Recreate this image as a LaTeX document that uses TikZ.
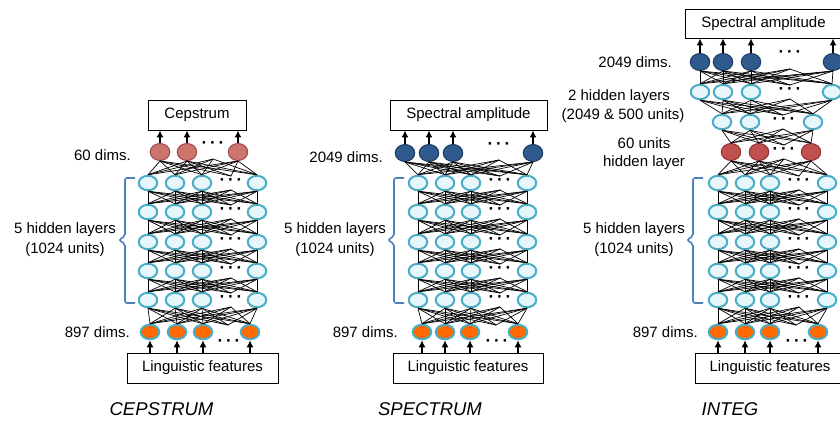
\documentclass[tikz,border=0pt]{standalone}
\usepackage{fontspec}
\setmainfont{Liberation Sans}
\usetikzlibrary{shapes.geometric,arrows.meta}
\definecolor{cyb}{HTML}{4BACC6}
\definecolor{cyf}{HTML}{E6F6FB}
\definecolor{org}{HTML}{FF6A00}
\definecolor{redA}{HTML}{CD7370}
\definecolor{redAd}{HTML}{A04845}
\definecolor{redB}{HTML}{C0504D}
\definecolor{redBd}{HTML}{8E3331}
\definecolor{blu}{HTML}{2E5A8E}
\definecolor{blud}{HTML}{1D3A5E}
\definecolor{brc}{HTML}{4F81BD}
\tikzset{
  unit/.style={ellipse, inner sep=0pt, minimum width=18.5pt, minimum height=14.5pt},
  hid/.style={unit, draw=cyb, fill=cyf, line width=2pt},
  inp/.style={unit, draw=cyb, fill=org, line width=2pt},
  outr/.style={unit, draw=redAd, fill=redA, line width=1pt, minimum width=19.5pt, minimum height=17pt},
  midr/.style={unit, draw=redBd, fill=redB, line width=1pt, minimum width=19.5pt, minimum height=17pt},
  outb/.style={unit, draw=blud, fill=blu, line width=1pt, minimum width=19.5pt, minimum height=17pt},
  edge/.style={draw=black, line width=0.7pt},
  arr/.style={draw=black, line width=1.4pt, -{Latex[length=7pt,width=7pt]}},
  box/.style={draw=black, line width=0.8pt, fill=white, inner sep=0pt, font=\fontsize{15}{18}\selectfont},
  lbl/.style={inner sep=0pt, font=\fontsize{15}{18}\selectfont},
  captxt/.style={inner sep=0pt, font=\fontsize{18.5}{20}\selectfont\itshape},
  dotsn/.style={inner sep=0pt, font=\fontsize{17}{18}\selectfont\bfseries},
  brace/.style={draw=brc, line width=1.6pt, rounded corners=2pt},
}
\newcommand\mkLayer[5]{%
  \foreach \xx [count=\ii] in {#4} {\node[#3] (#1-\ii) at (\xx,#2) {};}
  \coordinate (#1-dt) at (#5,#2-7);
  \coordinate (#1-db) at (#5,#2+7);
}
\newcommand\mkDots[3]{\node[dotsn] (#1-dots) at (#2,#3) {·\,·\,·};}
\newcommand\mkConn[4]{%
  \foreach \ii in {1,...,#2}{%
    \foreach \jj in {1,...,#4}{\draw[edge] (#1-\ii.south) -- (#3-\jj.north);}
    \draw[edge] (#1-\ii.south) -- (#3-dt);}
  \foreach \jj in {1,...,#4}{\draw[edge] (#1-db) -- (#3-\jj.north);}
}
\newcommand\mkBrace[2]{% name, vertical x
  \draw[brace] (#2+10,178) -- (#2,178) -- (#2,236) -- (#2-6,240) -- (#2,244) -- (#2,303) -- (#2+10,303);
}
\begin{document}
\begin{tikzpicture}[x=1pt,y=-1pt]
\path[use as bounding box] (0,0) rectangle (840,421);
\clip (0,0) rectangle (840,421);

% ---------------- CEPSTRUM ----------------
\node[box, minimum width=98pt, minimum height=30pt] (cbox) at (197,115) {Cepstrum};
\node[box, minimum width=151pt, minimum height=30pt] (clb) at (202.5,368) {Linguistic features};
\mkLayer{co}{152}{outr}{160,187,238}{213}
\mkLayer{ch1}{183}{hid}{148,175,202,257}{231}
\mkLayer{ch2}{212}{hid}{148,175,202,257}{231}
\mkLayer{ch3}{242}{hid}{148,175,202,257}{231}
\mkLayer{ch4}{271}{hid}{148,175,202,257}{231}
\mkLayer{ch5}{300}{hid}{148,175,202,257}{231}
\mkLayer{ci}{332}{inp}{150,177,203,250}{228}
\mkConn{co}{3}{ch1}{4}
\mkConn{ch1}{4}{ch2}{4}
\mkConn{ch2}{4}{ch3}{4}
\mkConn{ch3}{4}{ch4}{4}
\mkConn{ch4}{4}{ch5}{4}
\mkConn{ch5}{4}{ci}{4}
\mkDots{co}{213}{145}
\mkDots{ch1}{231}{182}
\mkDots{ch2}{231}{211}
\mkDots{ch3}{231}{241}
\mkDots{ch4}{231}{270}
\mkDots{ch5}{231}{299}
\mkDots{ci}{229}{343}
\foreach \k in {1,2,3}{\draw[arr] (co-\k.north) -- (cbox.south -| co-\k);}
\foreach \k in {1,2,3,4}{\draw[arr] (clb.north -| ci-\k) -- (ci-\k.south);}
\mkBrace{cb}{125}
\node[lbl, anchor=east] (c60) at (131,155) {60 dims.};
\node[lbl] (chl1) at (65,230) {5 hidden layers};
\node[lbl] (chl2) at (65,250) {(1024 units)};
\node[lbl, anchor=east] (c897) at (130,332) {897 dims.};
\node[captxt] (ccap) at (161.5,409) {CEPSTRUM};

% ---------------- SPECTRUM ----------------
\node[box, minimum width=157pt, minimum height=30pt] (sbox) at (468.5,115) {Spectral amplitude};
\node[box, minimum width=150pt, minimum height=30pt] (slb) at (468,368) {Linguistic features};
\mkLayer{so}{153}{outb}{405,429,453,533}{499}
\mkLayer{sh1}{183}{hid}{418,445,471,527}{500}
\mkLayer{sh2}{212}{hid}{418,445,471,527}{500}
\mkLayer{sh3}{242}{hid}{418,445,471,527}{500}
\mkLayer{sh4}{271}{hid}{418,445,471,527}{500}
\mkLayer{sh5}{300}{hid}{418,445,471,527}{500}
\mkLayer{si}{332}{inp}{422,445,470,518}{496}
\mkConn{so}{4}{sh1}{4}
\mkConn{sh1}{4}{sh2}{4}
\mkConn{sh2}{4}{sh3}{4}
\mkConn{sh3}{4}{sh4}{4}
\mkConn{sh4}{4}{sh5}{4}
\mkConn{sh5}{4}{si}{4}
\mkDots{so}{499}{146}
\mkDots{sh1}{500}{182}
\mkDots{sh2}{500}{211}
\mkDots{sh3}{500}{241}
\mkDots{sh4}{500}{270}
\mkDots{sh5}{500}{299}
\mkDots{si}{497}{343}
\foreach \k in {1,2,3,4}{\draw[arr] (so-\k.north) -- (sbox.south -| so-\k);}
\foreach \k in {1,2,3,4}{\draw[arr] (slb.north -| si-\k) -- (si-\k.south);}
\mkBrace{sb}{394}
\node[lbl, anchor=east] (s2049) at (383,157) {2049 dims.};
\node[lbl] (shl1) at (335,230) {5 hidden layers};
\node[lbl] (shl2) at (335,250) {(1024 units)};
\node[lbl, anchor=east] (s897) at (398,332) {897 dims.};
\node[captxt] (scap) at (430,409) {SPECTRUM};

% ---------------- INTEG ----------------
\node[box, minimum width=157pt, minimum height=29pt] (gbox) at (763.5,23.5) {Spectral amplitude};
\node[box, minimum width=150pt, minimum height=30pt] (glb) at (770,368) {Linguistic features};
\mkLayer{go}{62}{outb}{700,723,751,833}{790}
\mkLayer{gh1}{92}{hid}{700,723,751,832}{790}
\mkLayer{gh2}{122}{hid}{722,750,813}{783}
\mkLayer{gr}{152}{midr}{731,759,811}{784}
\mkLayer{gh3}{183}{hid}{718,745,770,827}{799}
\mkLayer{gh4}{212}{hid}{718,745,770,827}{799}
\mkLayer{gh5}{242}{hid}{718,745,770,827}{799}
\mkLayer{gh6}{271}{hid}{718,745,770,827}{799}
\mkLayer{gh7}{300}{hid}{718,745,770,827}{799}
\mkLayer{gi}{332}{inp}{718,745,770,818}{796}
\mkConn{go}{4}{gh1}{4}
\mkConn{gh1}{4}{gh2}{3}
\mkConn{gh2}{3}{gr}{3}
\mkConn{gr}{3}{gh3}{4}
\mkConn{gh3}{4}{gh4}{4}
\mkConn{gh4}{4}{gh5}{4}
\mkConn{gh5}{4}{gh6}{4}
\mkConn{gh6}{4}{gh7}{4}
\mkConn{gh7}{4}{gi}{4}
\mkDots{go}{790}{54}
\mkDots{gh1}{790}{91}
\mkDots{gh2}{784}{121}
\mkDots{gr}{784}{151}
\mkDots{gh3}{799}{182}
\mkDots{gh4}{799}{211}
\mkDots{gh5}{799}{241}
\mkDots{gh6}{799}{270}
\mkDots{gh7}{799}{299}
\mkDots{gi}{797}{343}
\foreach \k in {1,2,3,4}{\draw[arr] (go-\k.north) -- (gbox.south -| go-\k);}
\foreach \k in {1,2,3,4}{\draw[arr] (glb.north -| gi-\k) -- (gi-\k.south);}
\mkBrace{gb}{693}
\node[lbl, anchor=east] (g2049) at (672,62) {2049 dims.};
\node[lbl] (ghl1) at (619,97) {2 hidden layers};
\node[lbl] (ghl2) at (623,116) {(2049 \& 500 units)};
\node[lbl] (g60a) at (644,143) {60 units};
\node[lbl] (g60b) at (644,163) {hidden layer};
\node[lbl] (ghl3) at (634,230) {5 hidden layers};
\node[lbl] (ghl4) at (634,250) {(1024 units)};
\node[lbl, anchor=east] (g897) at (698,332) {897 dims.};
\node[captxt] (gcap) at (730,409) {INTEG};
\end{tikzpicture}
\end{document}
